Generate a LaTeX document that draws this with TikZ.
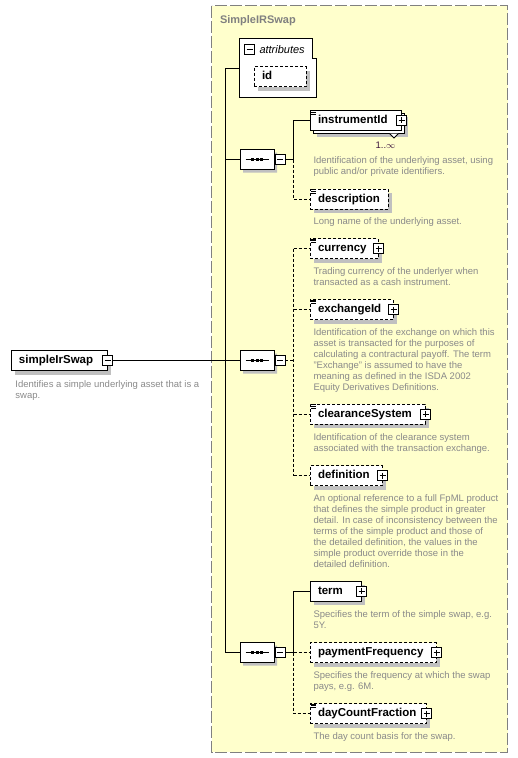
\documentclass[tikz,border=0pt]{standalone}
\usepackage{fontspec}
\setmainfont{Liberation Sans}
\usetikzlibrary{calc,positioning,shadows,shapes.misc}

\definecolor{schemabg}{RGB}{255,255,204}
\definecolor{docgray}{RGB}{138,138,138}
\definecolor{shadowgray}{RGB}{192,192,192}
\definecolor{framegray}{RGB}{128,128,128}
\definecolor{occcolor}{RGB}{60,20,60}

\newcommand{\labelfont}{\bfseries\fontsize{11.5}{13}\selectfont}
\newcommand{\docfont}{\fontsize{9.5}{11}\selectfont}
\newcommand{\titlefont}{\bfseries\fontsize{11}{13}\selectfont}
\newcommand{\attrfont}{\itshape\fontsize{11}{13}\selectfont}

% small "documented" mark in the upper left corner of an element
\newcommand{\docmark}[1]{%
  \draw[line width=0.8pt, solid] ($(#1.north west)+(1.5,1)$) -- ++(5,0)
    ($(#1.north west)+(1.5,2.7)$) -- ++(5,0)
    ($(#1.north west)+(1.5,4.4)$) -- ++(5,0);}
% the dots of a sequence compositor
\newcommand{\seqdots}[1]{%
  \draw ($(#1.center)+(-11.5,0)$) -- ($(#1.center)+(11.5,0)$);
  \fill ($(#1.center)+(-6,-1.5)$) rectangle ++(3,3);
  \fill ($(#1.center)+(-1.5,-1.5)$) rectangle ++(3,3);
  \fill ($(#1.center)+(3,-1.5)$) rectangle ++(3,3);}

\begin{document}
\begin{tikzpicture}[x=1pt, y=-1pt, line width=1pt,
  elem/.style={draw, fill=white, anchor=west, font=\labelfont, align=left,
    minimum height=20pt, inner xsep=8pt, inner ysep=0pt,
    text height=8.5pt, text depth=2pt,
    drop shadow={shadow xshift=4pt, shadow yshift=-4pt, fill=shadowgray, opacity=1}},
  opt/.style={dash pattern=on 3pt off 2pt},
  doc/.style={anchor=north west, inner sep=0pt, font=\docfont, text=docgray, align=left},
  seq/.style={draw, fill=white, chamfered rectangle, chamfered rectangle xsep=5pt,
    minimum width=34pt, minimum height=20pt, inner sep=0pt, anchor=west,
    drop shadow={shadow xshift=3pt, shadow yshift=-3pt, fill=shadowgray, opacity=1}},
  plusbox/.pic={
    \draw[solid, fill=white] (-5,-5) rectangle (5,5);
    \draw[solid] (-3,0) -- (3,0) (0,-3) -- (0,3);},
  minusbox/.pic={
    \draw[solid, fill=white] (-5,-5) rectangle (5,5);
    \draw[solid] (-3,0) -- (3,0);}]
  \useasboundingbox (0,0) rectangle (518,758);

  % schema frame
  \draw[framegray, fill=schemabg, dash pattern=on 12pt off 3pt] (211.5,5.5) rectangle (507.5,752);
  \node[anchor=base west, inner sep=0pt, font=\titlefont, text=framegray] (schemaTitle) at (219.5,23) {SimpleIRSwap};

  % attributes
  \draw[fill=white] (239.5,38.5) -- (312.5,38.5) -- (312.5,58.5) -- (316.5,58.5)
    -- (316.5,97.5) -- (239.5,97.5) -- cycle;
  \pic at (249.5,49.5) {minusbox};
  \node[anchor=base west, inner sep=0pt, font=\attrfont] (attrTitle) at (259,53) {attributes};
  \node[elem, opt, text width=36pt] (id) at (253.5,76.5) {id};
  \coordinate (attrW) at (239.5,68.5);

  % root element
  \node[elem, text width=80pt] (simpleIrSwap) at (10.5,360.5) {simpleIrSwap};
  \pic at (simpleIrSwap.east) {minusbox};
  \node[doc] (simpleIrSwapDoc) at (15,380) {Identifies a simple underlying asset that is a\\swap.};

  % compositors
  \node[seq] (seqA) at (239.5,159.5) {};
  \node[seq] (seqB) at (239.5,360.5) {};
  \node[seq] (seqC) at (239.5,652.5) {};
  \seqdots{seqA}
  \seqdots{seqB}
  \seqdots{seqC}
  \pic at ($(seqA.east)+(5.5,0)$) {minusbox};
  \pic at ($(seqB.east)+(5.5,0)$) {minusbox};
  \pic at ($(seqC.east)+(5.5,0)$) {minusbox};

  % first sequence
  \node[elem, text width=75pt,
    general shadow={shadow xshift=7pt, shadow yshift=-7pt, fill=shadowgray},
    general shadow={shadow xshift=3pt, shadow yshift=-3pt, fill=white, draw=black}]
    (instrumentId) at (309.5,120) {instrumentId};
  \draw[fill=white] ($(instrumentId.south east)+(-12,3)$) -- ++(4.5,4.5) -- ++(4.5,-4.5);
  \docmark{instrumentId}
  \pic at (instrumentId.east) {plusbox};
  \node[anchor=base, inner sep=0pt, font=\docfont, text=occcolor] (instrumentIdOcc) at (385.5,148) {1..$\infty$};
  \node[doc] (instrumentIdDoc) at (313,156) {Identification of the underlying asset, using\\public and/or private identifiers.};

  \node[elem, opt, text width=62pt] (description) at (309.5,199) {description};
  \docmark{description}
  \node[doc] (descriptionDoc) at (313,217.5) {Long name of the underlying asset.};

  % second sequence
  \node[elem, opt, text width=52pt] (currency) at (309.5,248.5) {currency};
  \docmark{currency}
  \pic at (currency.east) {plusbox};
  \node[doc] (currencyDoc) at (313,267.5) {Trading currency of the underlyer when\\transacted as a cash instrument.};

  \node[elem, opt, text width=67pt] (exchangeId) at (309.5,309.5) {exchangeId};
  \docmark{exchangeId}
  \pic at (exchangeId.east) {plusbox};
  \node[doc] (exchangeIdDoc) at (313,328.2) {Identification of the exchange on which this\\asset is transacted for the purposes of\\calculating a contractural payoff. The term\\"Exchange" is assumed to have the\\meaning as defined in the ISDA 2002\\Equity Derivatives Definitions.};

  \node[elem, opt, text width=99pt] (clearanceSystem) at (309.5,414) {clearanceSystem};
  \docmark{clearanceSystem}
  \pic at (clearanceSystem.east) {plusbox};
  \node[doc] (clearanceSystemDoc) at (313,433.2) {Identification of the clearance system\\associated with the transaction exchange.};

  \node[elem, opt, text width=56pt] (definition) at (309.5,475.5) {definition};
  \pic at (definition.east) {plusbox};
  \node[doc] (definitionDoc) at (313,493.8) {An optional reference to a full FpML product\\that defines the simple product in greater\\detail. In case of inconsistency between the\\terms of the simple product and those of\\the detailed definition, the values in the\\simple product override those in the\\detailed definition.};

  % third sequence
  \node[elem, text width=35pt] (term) at (309.5,591) {term};
  \pic at (term.east) {plusbox};
  \node[doc] (termDoc) at (313,610.5) {Specifies the term of the simple swap, e.g.\\5Y.};

  \node[elem, opt, text width=110pt] (paymentFrequency) at (309.5,652.5) {paymentFrequency};
  \pic at (paymentFrequency.east) {plusbox};
  \node[doc] (paymentFrequencyDoc) at (313,670.8) {Specifies the frequency at which the swap\\pays, e.g. 6M.};

  \node[elem, opt, text width=100pt] (dayCountFraction) at (309.5,713.5) {dayCountFraction};
  \docmark{dayCountFraction}
  \pic at (dayCountFraction.east) {plusbox};
  \node[doc] (dayCountFractionDoc) at (313,732.5) {The day count basis for the swap.};

  % connectors
  \coordinate (spineTop) at (225.5,68.5);
  \coordinate (spineBot) at (225.5,652.5);
  \draw (attrW) -- (spineTop) -- (spineBot) -- (seqC.west);
  \draw (spineTop |- seqA.west) -- (seqA.west);
  \draw ($(simpleIrSwap.east)+(5,0)$) -- (seqB.west);

  \coordinate (busA) at (293.5,159.5);
  \draw ($(seqA.east)+(10.5,0)$) -- (busA) |- (instrumentId.west);
  \draw[opt] (busA) |- (description.west);

  \coordinate (busB) at (293.5,360.5);
  \draw[opt] ($(seqB.east)+(10.5,0)$) -- (busB);
  \draw[opt] (busB |- currency.west) -- (busB |- definition.west);
  \draw[opt] (busB |- currency.west) -- (currency.west);
  \draw[opt] (busB |- exchangeId.west) -- (exchangeId.west);
  \draw[opt] (busB |- clearanceSystem.west) -- (clearanceSystem.west);
  \draw[opt] (busB |- definition.west) -- (definition.west);

  \coordinate (busC) at (293.5,652.5);
  \draw ($(seqC.east)+(10.5,0)$) -- (busC) |- (term.west);
  \draw[opt] (busC) -- (paymentFrequency.west);
  \draw[opt] (busC) |- (dayCountFraction.west);
\end{tikzpicture}
\end{document}
